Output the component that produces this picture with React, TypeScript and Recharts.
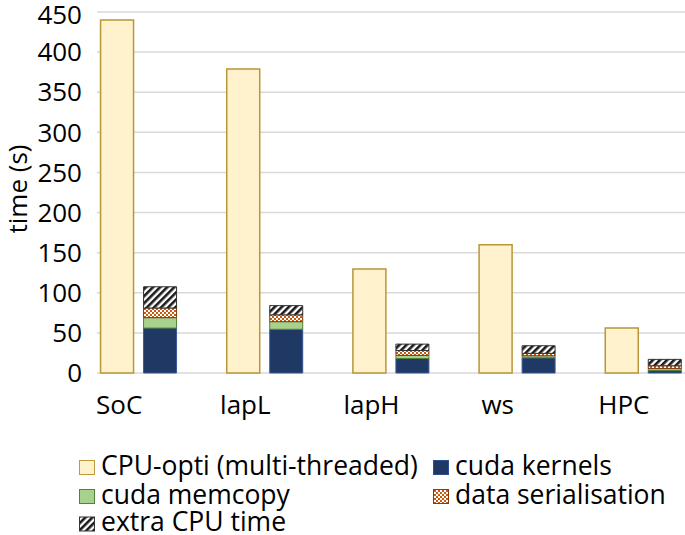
import React from 'react';
import { BarChart, Bar, XAxis, YAxis, CartesianGrid } from 'recharts';

// values (seconds)
const categories = ['SoC', 'lapL', 'lapH', 'ws', 'HPC'];
const cpuOpti = [440, 379, 129.5, 160, 56];
const cudaKernels = [56, 54.5, 18, 19, 3];
const cudaMemcopy = [13, 9.5, 4, 2.5, 2.5];
const dataSerialisation = [12, 8.5, 6, 3, 3.5];
const extraCpuTime = [26.5, 11.5, 8, 9.5, 8];
const yTicks = [0, 50, 100, 150, 200, 250, 300, 350, 400, 450];

const FONT = '"Open Sans", Lato, sans-serif';

const data = categories.map((name, i) => ({
  idx: i,
  name,
  cpu: cpuOpti[i],
  kernels: cudaKernels[i],
  memcopy: cudaMemcopy[i],
  serial: dataSerialisation[i],
  extra: extraCpuTime[i],
}));

const Patterns = ({ prefix }: { prefix: string }) => (
  <defs>
    <pattern id={`${prefix}-checker`} width="4" height="4" patternUnits="userSpaceOnUse">
      <rect width="4" height="4" fill="#ffffff" />
      <rect width="2" height="2" fill="#C55A11" />
      <rect x="2" y="2" width="2" height="2" fill="#C55A11" />
    </pattern>
    <pattern id={`${prefix}-hatch`} width="5" height="5" patternUnits="userSpaceOnUse" patternTransform="rotate(45)">
      <rect width="5" height="5" fill="#ffffff" />
      <rect width="2.6" height="5" fill="#1a1a1a" />
    </pattern>
  </defs>
);

const XTick = ({ x, y, payload }: any) => (
  <text x={x - 19.5} y={y + 33} textAnchor="middle" fontSize={26} fill="#000" fontFamily={FONT}>
    {categories[payload.value]}
  </text>
);

const YLabel = () => (
  <text transform="translate(17,189) rotate(-90)" textAnchor="middle" dominantBaseline="central" fontSize={26} fill="#000" fontFamily={FONT}>
    time (s)
  </text>
);

const legendItems = [
  { label: 'CPU-opti (multi-threaded)', fill: '#FFF2CC', stroke: '#BF9A3A', x: 79, y: 474.5 },
  { label: 'cuda kernels', fill: '#1F3864', stroke: '#2F4F8A', x: 433, y: 474.5 },
  { label: 'cuda memcopy', fill: '#A9D18E', stroke: '#548235', x: 79, y: 503.5 },
  { label: 'data serialisation', fill: 'url(#lg-checker)', stroke: '#843C0C', x: 433, y: 503.5 },
  { label: 'extra CPU time', fill: 'url(#lg-hatch)', stroke: '#333333', x: 79, y: 531 },
];

const LegendBlock = () => (
  <svg width={685} height={535} style={{ position: 'absolute', left: 0, top: 0, pointerEvents: 'none' }}>
    <Patterns prefix="lg" />
    {legendItems.map((it) => (
      <g key={it.label}>
        <rect x={it.x + 0.5} y={it.y - 14} width={15} height={14} fill={it.fill} stroke={it.stroke} strokeWidth={1} />
        <text x={it.x + 22} y={it.y} fontSize={26.5} fill="#000" fontFamily={FONT}>
          {it.label}
        </text>
      </g>
    ))}
  </svg>
);

export default function App() {
  return (
    <div style={{ position: 'absolute', left: 0, top: 0, width: 685, height: 535, background: '#fff', overflow: 'hidden', fontFamily: FONT }}>
      <BarChart width={685} height={535} data={data} margin={{ top: 12, right: 0, left: 0, bottom: 132 }} barGap={10}>
        <Patterns prefix="ch" />
        <CartesianGrid vertical={false} stroke="#D9D9D9" strokeWidth={1.5} />
        <XAxis
          type="number"
          dataKey="idx"
          domain={[-0.33, 4.33]}
          ticks={[0, 1, 2, 3, 4]}
          height={30}
          axisLine={false}
          tickLine={false}
          tick={<XTick />}
          interval={0}
        />
        <YAxis
          domain={[0, 450]}
          ticks={yTicks}
          width={97}
          axisLine={false}
          tickLine={false}
          tick={{ fontSize: 26, fill: '#000', fontFamily: FONT, dx: -7 }}
          label={{ content: <YLabel /> }}
        />
        <Bar dataKey="cpu" stackId="cpu" barSize={33} fill="#FFF2CC" stroke="#B8963A" strokeWidth={1.5} isAnimationActive={false} />
        <Bar dataKey="kernels" stackId="gpu" barSize={33} fill="#1F3864" stroke="#3A5A94" strokeWidth={1} isAnimationActive={false} />
        <Bar dataKey="memcopy" stackId="gpu" barSize={33} fill="#A9D18E" stroke="#548235" strokeWidth={1} isAnimationActive={false} />
        <Bar dataKey="serial" stackId="gpu" barSize={33} fill="url(#ch-checker)" stroke="#843C0C" strokeWidth={1} isAnimationActive={false} />
        <Bar dataKey="extra" stackId="gpu" barSize={33} fill="url(#ch-hatch)" stroke="#333333" strokeWidth={1} isAnimationActive={false} />
      </BarChart>
      <LegendBlock />
    </div>
  );
}
